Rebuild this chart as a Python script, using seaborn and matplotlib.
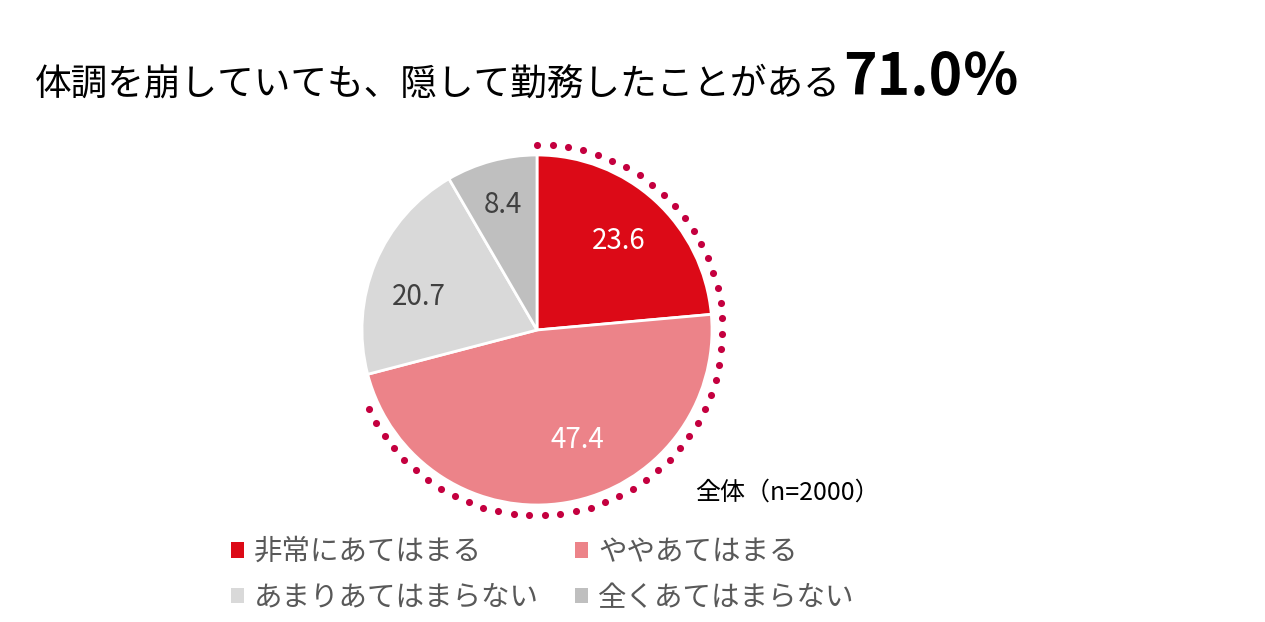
import numpy as np
import matplotlib
matplotlib.use('Agg')
import matplotlib.pyplot as plt
from matplotlib.patches import Patch
import seaborn as sns

categories = ['非常にあてはまる', 'ややあてはまる', 'あまりあてはまらない', '全くあてはまらない']
values = [23.6, 47.4, 20.7, 8.4]
total_yes = 71.0
title_text = '体調を崩していても、隠して勤務したことがある'
note_text = '全体（n=2000）'

sns.set_theme(style='white')
plt.rcParams['font.family'] = ['Noto Sans CJK JP', 'DejaVu Sans']

colors = sns.color_palette(['#DC0A17', '#EC8389', '#D9D9D9', '#BFBFBF'])
label_colors = ['white', 'white', '#404040', '#404040']
label_dist = [0.69, 0.67, 0.7, 0.74]
label_shift = [0, 10, 7, 0]  # 度
dot_color = '#C4003F'

W, H = 1265, 622
fig = plt.figure(figsize=(W / 100, H / 100), dpi=100)
fig.patch.set_facecolor('white')

# 円グラフの位置 (px)
R = 175
cx, cy = 537, 330
ax = fig.add_axes([(cx - 1.2 * R) / W, (H - cy - 1.2 * R) / H, 2.4 * R / W, 2.4 * R / H])

wedges, _ = ax.pie(values, colors=colors, startangle=90, counterclock=False,
                   wedgeprops=dict(edgecolor='white', linewidth=2), frame=True)
ax.set_xlim(-1.2, 1.2)
ax.set_ylim(-1.2, 1.2)
ax.set_aspect('equal')
ax.axis('off')

# 数値ラベル
for w, v, c, d, s in zip(wedges, values, label_colors, label_dist, label_shift):
    mid = np.deg2rad((w.theta1 + w.theta2) / 2 + s)
    ax.text(d * np.cos(mid), d * np.sin(mid), f'{v:.1f}', color=c,
            fontsize=20, ha='center', va='center')

# あてはまる計の点線
ang = np.deg2rad(np.arange(90, 90 - 3.6 * total_yes + 7, -4.8))
ax.scatter(1.06 * np.cos(ang), 1.06 * np.sin(ang), s=26, color=dot_color,
           clip_on=False, zorder=5, linewidths=0)

# タイトル
t = fig.text(35 / W, 1 - 95 / H, title_text, fontsize=26.4, va='baseline', color='black')
fig.canvas.draw()
bb = t.get_window_extent()
fig.text(bb.x1 / W + 0.002, 1 - 95 / H, f'{total_yes:.1f}％', fontsize=41,
         fontweight='bold', va='baseline', color='black')

fig.text(695 / W, 1 - 493 / H, note_text, fontsize=18, va='center', color='black')

# 凡例
order = [0, 2, 1, 3]
handles = [Patch(facecolor=colors[i], edgecolor='none') for i in order]
labels = [categories[i] for i in order]
fig.legend(handles, labels, ncol=2, loc='upper left',
           bbox_to_anchor=(231 / W, 1 - 537 / H), frameon=False, fontsize=20.5,
           handlelength=0.45, handleheight=0.45, handletextpad=0.35,
           columnspacing=1.28, labelspacing=0.56, labelcolor='#595959',
           borderpad=0, borderaxespad=0)

fig.savefig('out.png', dpi=100)
